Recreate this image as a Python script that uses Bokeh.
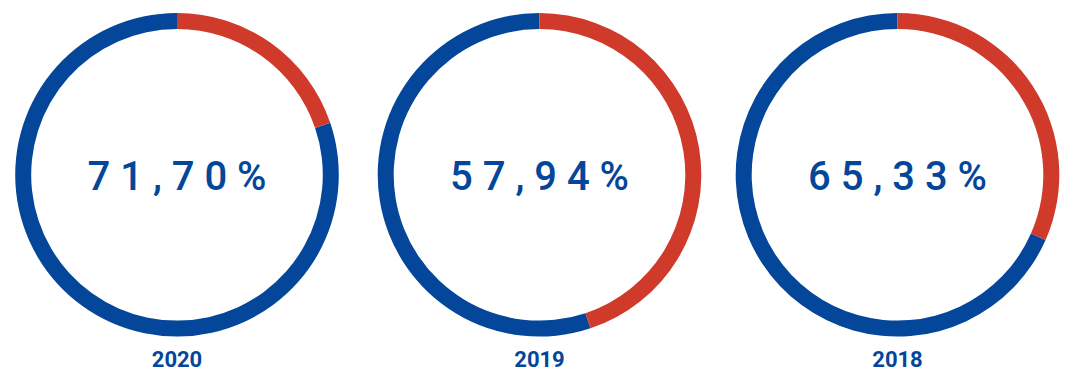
import math
from bokeh.plotting import figure
from bokeh.models import Range1d, ColumnDataSource
from bokeh.core.properties import value
from bokeh.embed import file_html
from bokeh.resources import INLINE

# ---- data ----
years = ["2020", "2019", "2018"]
pct_labels = ["71,70%", "57,94%", "65,33%"]
red_share = [0.198, 0.449, 0.316]   # red arc share read from the rings

BLUE = "#04479A"
RED = "#CF3A2B"

W, H = 1060, 376

p = figure(width=W, height=H, output_backend="svg", toolbar_location=None,
           x_range=Range1d(0, W), y_range=Range1d(0, H),
           min_border=0, outline_line_color=None)
p.axis.visible = False
p.grid.visible = False
p.background_fill_color = "white"
p.border_fill_color = "white"


def fy(top_y):
    """pixel distance from top -> data y"""
    return H - top_y


centers_x = [176.5, 539, 897]
cy = fy(174.3)
r_out = 161.8
r_in = 145.8
top = math.pi / 2

red_start = [top - 2 * math.pi * f for f in red_share]
src = ColumnDataSource(dict(
    x=centers_x, y=[cy] * 3,
    red_start=red_start, red_end=[top] * 3,
    blue_start=[top] * 3, blue_end=red_start,
    pct=[" ".join(list(s)) for s in pct_labels],
    year=years,
))

p.annular_wedge(x="x", y="y", inner_radius=r_in, outer_radius=r_out,
                start_angle="blue_start", end_angle="blue_end",
                direction="anticlock", fill_color=BLUE, line_color=None,
                source=src)
p.annular_wedge(x="x", y="y", inner_radius=r_in, outer_radius=r_out,
                start_angle="red_start", end_angle="red_end",
                direction="anticlock", fill_color=RED, line_color=None,
                source=src)

p.text(x="x", y=fy(176), text="pct", source=src,
       text_font=value("Roboto Medium"), text_font_size="40px",
       text_color=BLUE, text_align="center", text_baseline="middle")

p.text(x="x", y=fy(358), text="year", source=src,
       text_font=value("Roboto"), text_font_size="22px",
       text_font_style="bold",
       text_color=BLUE, text_align="center", text_baseline="middle")

open("out.html", "w").write(file_html(p, INLINE))
